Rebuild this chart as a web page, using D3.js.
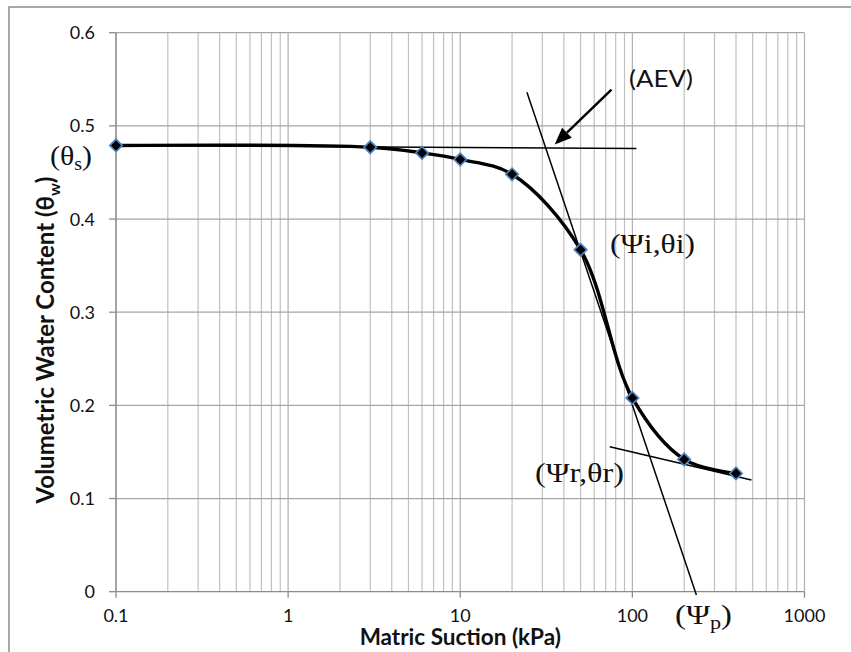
<!DOCTYPE html>
<html><head><meta charset="utf-8">
<script src="https://cdn.jsdelivr.net/npm/d3@7"></script>
<style>body{margin:0;background:#fff} svg{display:block}</style>
</head><body><svg id="c" width="851" height="652"></svg>
<script>
// ---- data ----
const suction = [0.1, 3, 6, 10, 20, 50, 100, 200, 400];
const theta   = [0.479, 0.477, 0.471, 0.464, 0.448, 0.367, 0.208, 0.142, 0.127];
const yTicks = [0, 0.1, 0.2, 0.3, 0.4, 0.5, 0.6];
const yTickLabels = ["0", "0.1", "0.2", "0.3", "0.4", "0.5", "0.6"];
const xTicks = [0.1, 1, 10, 100, 1000];
const xTickLabels = ["0.1", "1", "10", "100", "1000"];
const tangentSat   = [[0.1, 0.479], [105.6, 0.4757]];
const tangentSteep = [[24.4, 0.536], [235.5, -0.0035]];
const tangentRes   = [[73.9, 0.1556], [491.7, 0.1199]];
const aevArrow     = [[75.6, 0.539], [35.4, 0.480]];
const xTitle = "Matric Suction (kPa)";
const yTitle = "Volumetric Water Content (θ";

const svg = d3.select("#c");
const x = d3.scaleLog().domain([0.1, 1000]).range([116, 804.5]);
const y = d3.scaleLinear().domain([0, 0.6]).range([591.7, 32.7]);

// outer frame
svg.append("rect").attr("x", 9).attr("y", 7).attr("width", 900).attr("height", 700)
  .attr("fill", "none").attr("stroke", "#8c8c8c").attr("stroke-width", 1.5);

// grid
const minor = [];
[0.1, 1, 10, 100].forEach(d => { for (let k = 2; k <= 9; k++) minor.push(d * k); });
const g = svg.append("g");
g.selectAll(".vmin").data(minor).join("line")
  .attr("x1", d => x(d)).attr("x2", d => x(d)).attr("y1", y(0)).attr("y2", y(0.6))
  .attr("stroke", "#c0c0c0").attr("stroke-width", 1.2);
g.selectAll(".vmaj").data(xTicks).join("line")
  .attr("x1", d => x(d)).attr("x2", d => x(d)).attr("y1", y(0)).attr("y2", y(0.6))
  .attr("stroke", "#b0b0b0").attr("stroke-width", 1.2);
g.selectAll(".hmaj").data(yTicks.slice(1)).join("line")
  .attr("x1", x(0.1)).attr("x2", x(1000)).attr("y1", d => y(d)).attr("y2", d => y(d))
  .attr("stroke", "#a6a6a6").attr("stroke-width", 1.3);

// axes
const ax = svg.append("g").attr("stroke", "#8c8c8c").attr("stroke-width", 1.3);
ax.append("line").attr("x1", x(0.1)).attr("x2", x(0.1)).attr("y1", y(0)).attr("y2", y(0.6));
ax.append("line").attr("x1", x(0.1)).attr("x2", x(1000)).attr("y1", y(0)).attr("y2", y(0));
ax.selectAll(".yt").data(yTicks).join("line")
  .attr("x1", x(0.1) - 7).attr("x2", x(0.1)).attr("y1", d => y(d)).attr("y2", d => y(d));
ax.selectAll(".xt").data(xTicks).join("line")
  .attr("x1", d => x(d)).attr("x2", d => x(d)).attr("y1", y(0)).attr("y2", y(0) + 6);

const lab = svg.append("g").attr("font-family", "Lato, 'Open Sans', sans-serif").attr("font-size", 18).attr("fill", "#111");
lab.selectAll(".yl").data(yTicks).join("text")
  .attr("x", 95).attr("y", d => y(d)).attr("dy", "0.36em").attr("text-anchor", "end")
  .text((d, i) => yTickLabels[i]);
lab.selectAll(".xl").data(xTicks).join("text")
  .attr("x", d => x(d)).attr("y", 622).attr("text-anchor", "middle")
  .text((d, i) => xTickLabels[i]);

// titles
svg.append("text").attr("x", x(10)).attr("y", 645).attr("text-anchor", "middle")
  .attr("font-family", "Lato, sans-serif").attr("font-weight", "bold").attr("font-size", 22.5)
  .attr("fill", "#111").text(xTitle);
const yt = svg.append("text").attr("transform", "translate(54,340) rotate(-90)").attr("text-anchor", "middle")
  .attr("font-family", "Lato, sans-serif").attr("font-weight", "bold").attr("font-size", 24).attr("fill", "#111");
yt.append("tspan").text(yTitle);
yt.append("tspan").attr("dy", 6).attr("font-size", 16).text("w");
yt.append("tspan").attr("dy", -6).text(")");

// tangent lines
const line = d3.line().x(d => x(d[0])).y(d => y(d[1]));
[tangentSat, tangentSteep, tangentRes].forEach(t => {
  svg.append("path").attr("d", line(t)).attr("fill", "none").attr("stroke", "#000").attr("stroke-width", 1.5);
});

// smoothed curve
const pts = suction.map((s, i) => [s, theta[i]]);
svg.append("path").attr("d", d3.line().x(d => x(d[0])).y(d => y(d[1])).curve(d3.curveCatmullRom.alpha(0.5))(pts))
  .attr("fill", "none").attr("stroke", "#000").attr("stroke-width", 3.4);

// arrow
const a0 = [x(aevArrow[0][0]), y(aevArrow[0][1])], a1 = [x(aevArrow[1][0]), y(aevArrow[1][1])];
const ang = Math.atan2(a1[1] - a0[1], a1[0] - a0[0]);
const hl = 17, hw = 7;
const base = [a1[0] - hl * Math.cos(ang), a1[1] - hl * Math.sin(ang)];
svg.append("line").attr("x1", a0[0]).attr("y1", a0[1]).attr("x2", base[0]).attr("y2", base[1])
  .attr("stroke", "#000").attr("stroke-width", 2.5);
svg.append("path").attr("d", `M${a1[0]},${a1[1]}L${base[0] + hw * Math.sin(ang)},${base[1] - hw * Math.cos(ang)}L${base[0] - hw * Math.sin(ang)},${base[1] + hw * Math.cos(ang)}Z`)
  .attr("fill", "#000");

// points
svg.selectAll(".pt").data(pts).join("path")
  .attr("transform", d => `translate(${x(d[0])},${y(d[1])}) rotate(45)`)
  .attr("d", "M-4.4,-4.4H4.4V4.4H-4.4Z")
  .attr("fill", "#000").attr("stroke", "#4f81bd").attr("stroke-width", 1.7);

// annotations
svg.append("text").attr("x", 629).attr("y", 87).attr("font-family", "Lato, sans-serif").attr("font-size", 24)
  .attr("textLength", 64).attr("lengthAdjust", "spacingAndGlyphs")
  .attr("fill", "#111").text("(AEV)");
const serif = "'Liberation Serif', 'Times New Roman', serif";
const ts = svg.append("text").attr("x", 50).attr("y", 165).attr("font-family", serif).attr("font-size", 27)
  .attr("textLength", 42).attr("lengthAdjust", "spacingAndGlyphs").attr("fill", "#111");
ts.append("tspan").text("(θ");
ts.append("tspan").attr("dy", 5).attr("font-size", 18).text("s");
ts.append("tspan").attr("dy", -5).text(")");
svg.append("text").attr("x", 610).attr("y", 253).attr("font-family", serif).attr("font-size", 28)
  .attr("textLength", 85).attr("lengthAdjust", "spacingAndGlyphs")
  .attr("fill", "#111").text("(Ψi,θi)");
svg.append("text").attr("x", 535).attr("y", 482).attr("font-family", serif).attr("font-size", 28)
  .attr("textLength", 89).attr("lengthAdjust", "spacingAndGlyphs")
  .attr("fill", "#111").text("(Ψr,θr)");
const tp = svg.append("text").attr("x", 675).attr("y", 624).attr("font-family", serif).attr("font-size", 28)
  .attr("textLength", 57).attr("lengthAdjust", "spacingAndGlyphs").attr("fill", "#111");
tp.append("tspan").text("(Ψ");
tp.append("tspan").attr("dy", 5).attr("font-size", 19).text("p");
tp.append("tspan").attr("dy", -5).text(")");
</script></body></html>
